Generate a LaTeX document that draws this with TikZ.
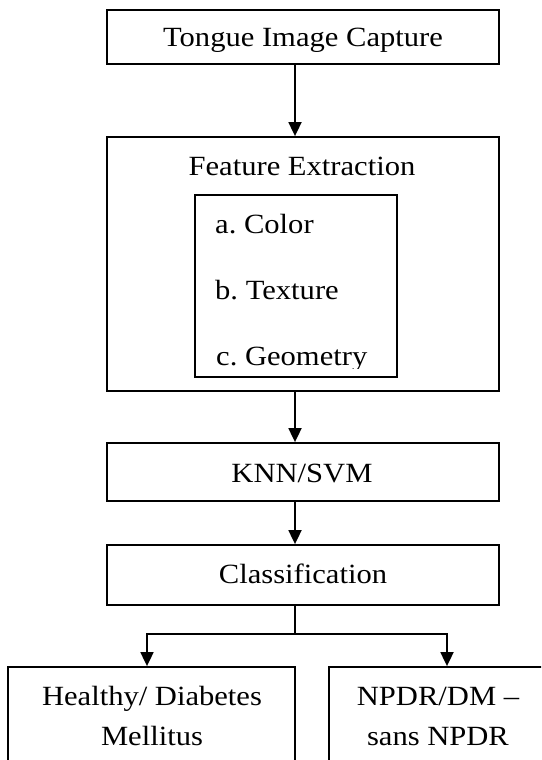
\documentclass[tikz,border=0pt]{standalone}
\usepackage{fontspec}
\setmainfont[FakeStretch=1.1]{Liberation Serif}
\usetikzlibrary{arrows.meta}
\frenchspacing
\begin{document}
\begin{tikzpicture}[x=1pt,y=-1pt,
  box/.style={draw, line width=1.8pt, inner sep=0pt, minimum width=392pt},
  lbl/.style={inner sep=0pt, anchor=base, font=\fontsize{27.8}{40}\selectfont},
  lblw/.style={inner sep=0pt, anchor=base west, font=\fontsize{27.8}{40}\selectfont},
  arr/.style={line width=1.8pt, -{Triangle[width=13pt,length=14pt]}},
  ln/.style={line width=1.8pt}]
\useasboundingbox (0,0) rectangle (541,760);
\clip (0,0) rectangle (541,760);
% boxes
\node[box, minimum height=54pt] (tic) at (303,37) {};
\node[box, minimum height=254pt] (fe) at (303,264) {};
\node[box, minimum width=202pt, minimum height=182pt] (inner) at (296,286) {};
\node[box, minimum height=58pt] (knn) at (303,472) {};
\node[box, minimum height=60pt] (cls) at (303,575) {};
\node[box, minimum width=287pt, minimum height=130pt] (hd) at (151.5,732) {};
\node[box, minimum width=218pt, minimum height=130pt] (np) at (438,732) {};
% texts
\node[lbl] (tict) at (303,47) {Tongue Image Capture};
\node[lbl] (fet) at (302,175) {Feature Extraction};
\node[lblw] (fa) at (215,233) {a. Color};
\node[lblw] (fb) at (215,299) {b. Texture};
\begin{scope}
\clip (195,340) rectangle (400,368);
\node[lblw] (fc) at (216,365) {c. Geometry};
\end{scope}
\node[lbl] (knnt) at (302,482) {KNN/SVM};
\node[lbl] (clst) at (303,583) {Classification};
\node[lbl] (hd1) at (152,705) {Healthy/ Diabetes};
\node[lbl] (hd2) at (152,745) {Mellitus};
\node[lbl] (np1) at (438,705) {NPDR/DM –};
\node[lbl] (np2) at (438,745) {sans NPDR};
% connectors
\draw[arr] ([xshift=-8pt]tic.south) -- ([xshift=-8pt]fe.north);
\draw[arr] ([xshift=-8pt]fe.south) -- ([xshift=-8pt]knn.north);
\draw[arr] ([xshift=-8pt]knn.south) -- ([xshift=-8pt]cls.south |- cls.north);
\coordinate (j) at (295,634);
\coordinate (jl) at (147,634);
\coordinate (jr) at (447,634);
\draw[ln] ([xshift=-8pt]cls.south) -- (j);
\draw[arr] (j) -- (jl) -- (jl |- hd.north);
\draw[arr] (j) -- (jr) -- (jr |- np.north);
\end{tikzpicture}
\end{document}
